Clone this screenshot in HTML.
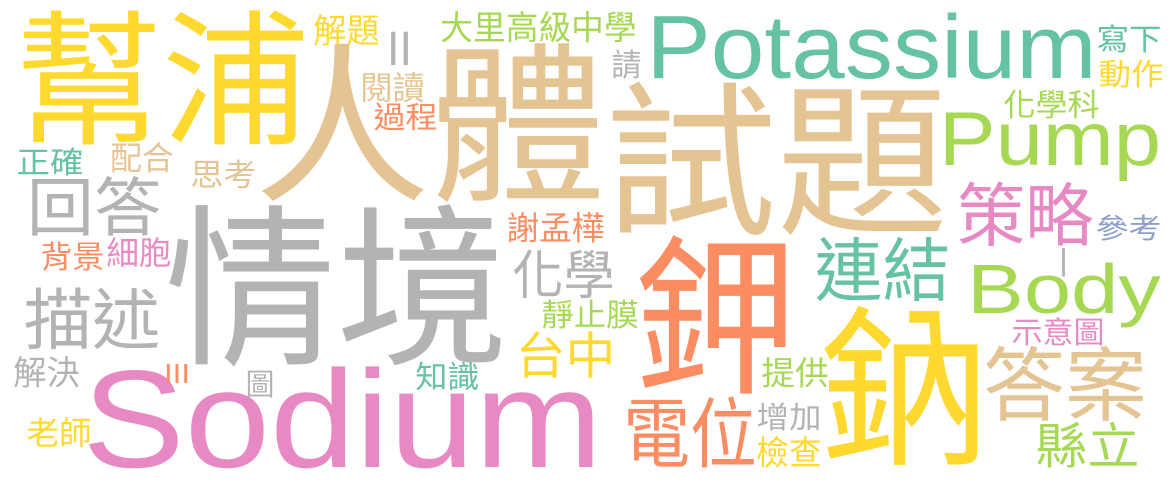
<!DOCTYPE html>
<html><head><meta charset="utf-8"><style>
html,body{margin:0;padding:0;background:#fff;width:1175px;height:482px;overflow:hidden}
svg{display:block}
</style></head><body>
<svg id="wc" width="1175" height="482" viewBox="0 0 1175 482" xmlns="http://www.w3.org/2000/svg"></svg>
<script>
const Y='#ffd92f',T='#e5c494',G='#66c2a5',R='#b3b3b3',P='#e78ac3',O='#fc8d62',L='#a6d854',B='#8da0cb';
// text, left, top, right, bottom, color, latin?
const words=[
['幫浦',22,12,302,143,Y,0],
['人體',263,45,597,200,T,0],
['試題',613,84,940,233,T,0],
['Potassium',650,13,1093,78,G,1],
['情境',173,207,500,363,R,0],
['Sodium',88,367,597,467,P,1],
['鉀',642,238,790,392,O,0],
['鈉',828,308,980,463,Y,0],
['Pump',942,110,1158,165,L,1],
['Body',970,263,1158,313,L,1],
['回答',30,177,158,235,R,0],
['描述',27,288,157,348,R,0],
['策略',960,183,1090,245,P,0],
['連結',818,238,947,300,G,0],
['答案',987,347,1143,420,T,0],
['電位',627,398,753,467,O,0],
['縣立',1038,423,1137,467,L,0],
['化學',515,250,612,297,R,0],
['台中',518,332,613,377,Y,0],
['解題',315,15,378,45,Y,0],
['大里高級中學',442,12,635,42,L,0],
['請',613,50,640,78,R,0],
['閱讀',362,73,423,102,T,0],
['過程',375,103,436,130,O,0],
['正確',18,148,82,175,G,0],
['配合',112,143,172,172,T,0],
['思考',192,160,255,188,T,0],
['謝孟樺',508,213,603,242,O,0],
['背景',42,242,103,270,O,0],
['細胞',108,238,170,267,P,0],
['靜止膜',543,300,637,328,L,0],
['解決',15,357,78,387,R,0],
['圖',247,370,273,397,R,0],
['知識',417,362,478,390,G,0],
['老師',28,418,90,447,Y,0],
['寫下',1098,25,1160,52,G,0],
['動作',1100,60,1162,87,Y,0],
['化學科',1005,90,1098,118,L,0],
['參考',1097,215,1160,240,B,0],
['示意圖',1013,318,1103,345,P,0],
['提供',763,358,827,387,L,0],
['增加',758,403,820,430,R,0],
['檢查',758,437,820,467,Y,0]
];
const NS='http://www.w3.org/2000/svg';
const svg=document.getElementById('wc');
words.forEach(w=>{
  const [t,x0,y0,x1,y1,c,lat]=w;
  const el=document.createElementNS(NS,'text');
  let fs,x,len,base;
  if(lat){fs=(y1-y0)/0.72;x=x0-0.04*fs;len=(x1-x0)+0.08*fs;base=y1;
    el.setAttribute('font-family','"Liberation Sans", sans-serif');}
  else{fs=(y1-y0)/0.9;x=x0-0.05*fs;len=(x1-x0)+0.1*fs;base=y1-0.07*fs;
    el.setAttribute('font-family','"Liberation Sans","Noto Sans CJK TC",sans-serif');}
  el.setAttribute('x',x.toFixed(1));el.setAttribute('y',base.toFixed(1));
  el.setAttribute('font-size',fs.toFixed(1));el.setAttribute('fill',c);
  el.setAttribute('textLength',len.toFixed(1));el.setAttribute('lengthAdjust','spacingAndGlyphs');
  el.textContent=t;
  
  
  svg.appendChild(el);
});
const bars=[['II',389,30,410,65,R],['III',166,363,188,383,O],['|',1061,248,1066,270,R]];
bars.forEach(b=>{
  const [t,x0,y0,x1,y1,c]=b;
  const fs=(y1-y0)/0.72;
  const el=document.createElementNS(NS,'text');
  el.setAttribute('x',x0-2);el.setAttribute('y',y1);
  el.setAttribute('font-size',fs.toFixed(1));el.setAttribute('fill',c);
  el.setAttribute('font-family','"Liberation Sans", sans-serif');
  el.setAttribute('textLength',(x1-x0+4));el.setAttribute('lengthAdjust','spacingAndGlyphs');
  el.textContent=t;
  
  
  svg.appendChild(el);
});
</script>
</body></html>
